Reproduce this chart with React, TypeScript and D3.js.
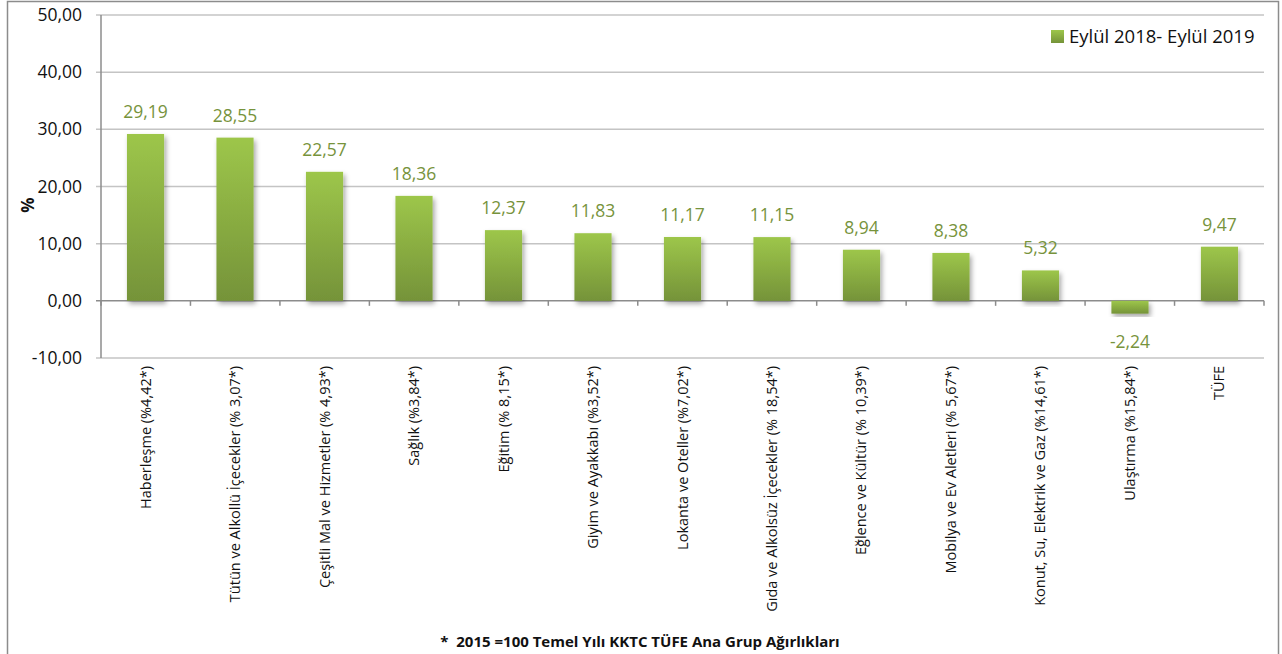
import React, { useEffect, useRef } from "react";
import * as d3 from "d3";

const categories = [
  "Haberleşme (%4,42*)",
  "Tütün ve Alkollü İçecekler (% 3,07*)",
  "Çeşitli Mal ve Hizmetler (% 4,93*)",
  "Sağlık (%3,84*)",
  "Eğitim (% 8,15*)",
  "Giyim ve Ayakkabı (%3,52*)",
  "Lokanta ve Oteller (%7,02*)",
  "Gıda ve Alkolsüz İçecekler (% 18,54*)",
  "Eğlence ve Kültür (% 10,39*)",
  "Mobilya ve Ev Aletleri (% 5,67*)",
  "Konut, Su, Elektrik ve Gaz (%14,61*)",
  "Ulaştırma (%15,84*)",
  "TÜFE",
];
const values = [29.19, 28.55, 22.57, 18.36, 12.37, 11.83, 11.17, 11.15, 8.94, 8.38, 5.32, -2.24, 9.47];
const yTicks = [-10, 0, 10, 20, 30, 40, 50];
const seriesName = "Eylül 2018- Eylül 2019";
const footnote = "*  2015 =100 Temel Yılı KKTC TÜFE Ana Grup Ağırlıkları";

const fmt = (v: number) => v.toFixed(2).replace(".", ",");
const FONT = "'Open Sans', sans-serif";

const App = () => {
  const ref = useRef<SVGSVGElement | null>(null);

  useEffect(() => {
    const svg = d3.select(ref.current);
    svg.selectAll("*").remove();
    const W = 1282;
    const H = 654;
    const left = 101;
    const right = 1264;
    const top = 15;
    const bottom = 358;

    const defs = svg.append("defs");
    const grad = defs
      .append("linearGradient")
      .attr("id", "barGrad")
      .attr("x1", "0%")
      .attr("x2", "0%")
      .attr("y1", "0%")
      .attr("y2", "100%");
    grad.append("stop").attr("offset", "0%").attr("stop-color", "#9dc64a");
    grad.append("stop").attr("offset", "100%").attr("stop-color", "#759339");

    const shadow = defs.append("filter").attr("id", "shadow").attr("x", "-20%").attr("y", "-20%").attr("width", "140%").attr("height", "140%");
    shadow
      .append("feDropShadow")
      .attr("dx", 2)
      .attr("dy", 3)
      .attr("stdDeviation", 2.5)
      .attr("flood-color", "#000")
      .attr("flood-opacity", 0.35);

    svg.append("rect").attr("width", W).attr("height", H).attr("fill", "#fff");
    svg
      .append("rect")
      .attr("x", 7.5)
      .attr("y", 1.5)
      .attr("width", 1271)
      .attr("height", 700)
      .attr("fill", "none")
      .attr("stroke", "#8c8c8c")
      .attr("stroke-width", 1.5);

    const x = d3.scaleBand<string>().domain(categories).range([left, right]).paddingInner(0.585).paddingOuter(0.29);
    const y = d3.scaleLinear().domain([-10, 50]).range([bottom, top]);

    // gridlines
    svg
      .append("g")
      .selectAll("line")
      .data(yTicks)
      .join("line")
      .attr("x1", left - 5)
      .attr("x2", right)
      .attr("y1", (d) => y(d))
      .attr("y2", (d) => y(d))
      .attr("stroke", (d) => (d === 0 ? "#8c8c8c" : "#c4c4c4"))
      .attr("stroke-width", 1.5);

    // y axis line
    svg
      .append("line")
      .attr("x1", left)
      .attr("x2", left)
      .attr("y1", top)
      .attr("y2", bottom)
      .attr("stroke", "#8c8c8c")
      .attr("stroke-width", 1.5);

    // category ticks on zero line
    const step = (right - left) / categories.length;
    svg
      .append("g")
      .selectAll("line")
      .data(d3.range(categories.length + 1))
      .join("line")
      .attr("x1", (i) => left + i * step)
      .attr("x2", (i) => left + i * step)
      .attr("y1", y(0))
      .attr("y2", y(0) + 5)
      .attr("stroke", "#8c8c8c")
      .attr("stroke-width", 1.5);

    // y tick labels
    svg
      .append("g")
      .selectAll("text")
      .data(yTicks)
      .join("text")
      .attr("x", 82)
      .attr("y", (d) => y(d) + 6)
      .attr("text-anchor", "end")
      .attr("font-family", FONT)
      .attr("font-size", 17.5)
      .attr("fill", "#111")
      .text((d) => fmt(d));

    svg
      .append("text")
      .attr("transform", `translate(34,205) rotate(-90)`)
      .attr("text-anchor", "middle")
      .attr("font-family", FONT)
      .attr("font-weight", "bold")
      .attr("font-size", 17)
      .attr("fill", "#111")
      .text("%");

    // bars
    svg
      .append("g")
      .selectAll("rect")
      .data(values)
      .join("rect")
      .attr("x", (_, i) => x(categories[i])!)
      .attr("width", x.bandwidth())
      .attr("y", (d) => y(Math.max(0, d)))
      .attr("height", (d) => Math.abs(y(d) - y(0)))
      .attr("fill", "url(#barGrad)")
      .attr("filter", "url(#shadow)");

    // value labels
    svg
      .append("g")
      .selectAll("text")
      .data(values)
      .join("text")
      .attr("x", (_, i) => x(categories[i])! + x.bandwidth() / 2)
      .attr("y", (d) => (d >= 0 ? y(d) - 16 : y(d) + 34))
      .attr("text-anchor", "middle")
      .attr("font-family", FONT)
      .attr("font-size", 17.5)
      .attr("fill", "#77933c")
      .text((d) => fmt(d));

    // category labels
    svg
      .append("g")
      .selectAll("text")
      .data(categories)
      .join("text")
      .attr("transform", (d) => `translate(${x(d)! + x.bandwidth() / 2 + 5},366) rotate(-90)`)
      .attr("text-anchor", "end")
      .attr("font-family", FONT)
      .attr("font-size", 14.5)
      .attr("fill", "#111")
      .text((d) => d);

    // legend
    svg
      .append("rect")
      .attr("x", 1051)
      .attr("y", 30)
      .attr("width", 13)
      .attr("height", 13)
      .attr("fill", "url(#barGrad)");
    svg
      .append("text")
      .attr("x", 1069)
      .attr("y", 43)
      .attr("font-family", FONT)
      .attr("font-size", 18.5)
      .attr("fill", "#111")
      .text(seriesName);

    svg
      .append("text")
      .attr("x", 640)
      .attr("y", 647)
      .attr("text-anchor", "middle")
      .attr("font-family", FONT)
      .attr("font-weight", "bold")
      .attr("font-size", 15)
      .attr("fill", "#111")
      .style("white-space", "pre")
      .text(footnote);
  }, []);

  return (
    <svg
      ref={ref}
      width={1282}
      height={654}
      style={{ position: "absolute", left: 0, top: 0 }}
    />
  );
};

export default App;
